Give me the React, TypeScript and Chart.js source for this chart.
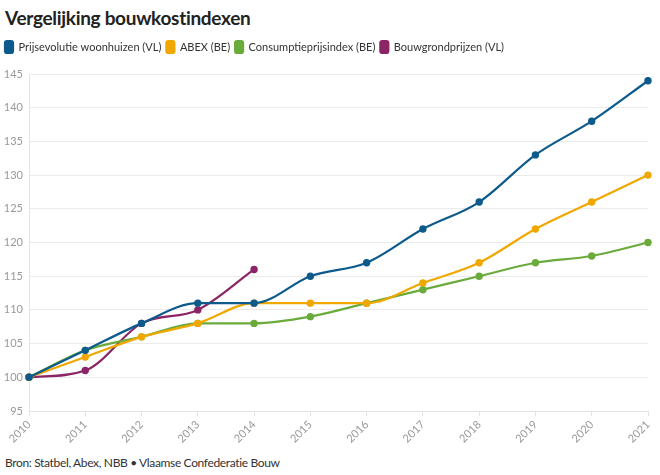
import React, { useEffect, useRef } from "react";
import { Chart, registerables } from "chart.js";

Chart.register(...registerables);

const years = ["2010", "2011", "2012", "2013", "2014", "2015", "2016", "2017", "2018", "2019", "2020", "2021"];
const woonhuizen = [100, 104, 108, 111, 111, 115, 117, 122, 126, 133, 138, 144];
const abex = [100, 103, 106, 108, 111, 111, 111, 114, 117, 122, 126, 130];
const cpi = [100, 104, 106, 108, 108, 109, 111, 113, 115, 117, 118, 120];
const bouwgrond = [100, 101, 108, 110, 116];

const FONT = "Lato, 'Noto Sans', sans-serif";

const legendSpacer = {
  id: "legendSpacer",
  beforeInit(chart: any) {
    const orig = chart.legend.fit;
    chart.legend.fit = function fit() {
      orig.bind(chart.legend)();
      this.height += 11;
    };
  },
};

export default function App() {
  const ref = useRef<HTMLCanvasElement | null>(null);
  useEffect(() => {
    if (!ref.current) return;
    const mk = (label: string, data: number[], color: string) => ({
      label,
      data,
      borderColor: color,
      backgroundColor: color,
      pointBackgroundColor: color,
      pointBorderColor: color,
      borderWidth: 2.2,
      pointRadius: 2.6,
      pointHoverRadius: 2.6,
      cubicInterpolationMode: "monotone" as const,
    });
    const chart = new Chart(ref.current, {
      type: "line",
      data: {
        labels: years,
        datasets: [
          mk("Prijsevolutie woonhuizen (VL)", woonhuizen, "#0d5a8c"),
          mk("ABEX (BE)", abex, "#f0a800"),
          mk("Consumptieprijsindex (BE)", cpi, "#6aab3c"),
          mk("Bouwgrondprijzen (VL)", bouwgrond, "#8c2566"),
        ],
      },
      plugins: [legendSpacer],
      options: {
        animation: false,
        responsive: false,
        maintainAspectRatio: false,
        layout: { padding: { left: 0, right: 12, top: 0, bottom: 0 } },
        plugins: {
          legend: {
            position: "top",
            align: "start",
            labels: {
              boxWidth: 8,
              boxHeight: 12,
              padding: 5,
              useBorderRadius: true,
              borderRadius: 2,
              color: "#333",
              font: { family: FONT, size: 11 },
            },
          },
          tooltip: { enabled: false },
        },
        scales: {
          x: {
            offset: false,
            grid: { drawOnChartArea: false, drawTicks: true, tickLength: 5, color: "#e3e3e3" },
            border: { display: true, color: "#e3e3e3" },
            ticks: {
              minRotation: 45,
              maxRotation: 45,
              color: "#999",
              padding: 2,
              font: { family: FONT, size: 11 },
            },
            afterFit: (s: any) => {
              s.height = 39;
            },
          },
          y: {
            min: 95,
            max: 145,
            ticks: { stepSize: 5, color: "#999", padding: 6, font: { family: FONT, size: 11 } },
            grid: { color: "#ebebeb", drawTicks: false },
            border: { display: true, color: "#e3e3e3" },
            afterFit: (s: any) => {
              s.width = 29;
            },
          },
        },
      },
    });
    return () => chart.destroy();
  }, []);

  return (
    <div style={{ position: "absolute", left: 0, top: 0, width: 660, height: 475, background: "#fff", fontFamily: FONT }}>
      <div style={{ position: "absolute", left: 5, top: 6, fontSize: 19, fontWeight: 700, color: "#222", letterSpacing: -0.3 }}>
        Vergelijking bouwkostindexen
      </div>
      <canvas ref={ref} width={660} height={414} style={{ position: "absolute", left: 0, top: 36, width: 660, height: 414 }} />
      <div style={{ position: "absolute", left: 5, top: 455, fontSize: 12, color: "#333", letterSpacing: -0.35 }}>
        Bron: Statbel, Abex, NBB • Vlaamse Confederatie Bouw
      </div>
    </div>
  );
}
